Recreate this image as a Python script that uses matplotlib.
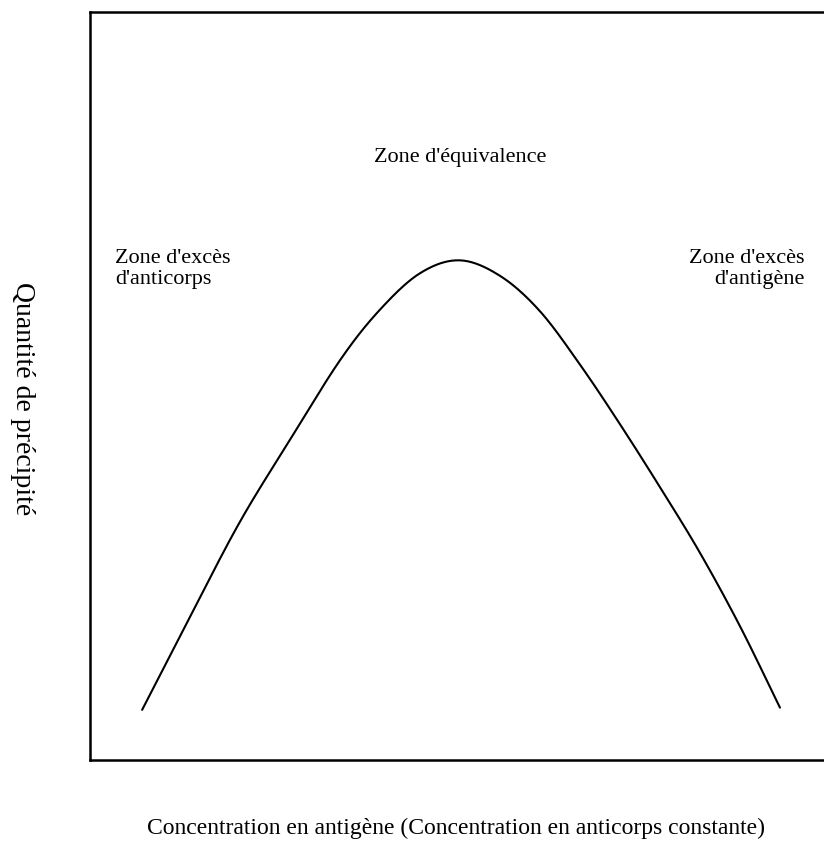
import matplotlib
matplotlib.use("Agg")
import matplotlib.pyplot as plt
import numpy as np

# Data (arbitrary units, 0-100)
conc_antigene = [7.1, 13.6, 20.4, 27.3, 34.1, 39.5, 45.0, 50.4,
                 55.9, 61.3, 66.8, 72.2, 77.7, 83.1, 88.6, 94.0]
precipite = [6.7, 19.1, 31.8, 42.9, 53.5, 60.2, 65.1, 66.8,
             64.7, 60.0, 52.8, 44.9, 36.4, 27.7, 17.8, 7.0]

zone_labels = ["Zone d'excès\nd'anticorps", "Zone d'équivalence", "Zone d'excès\nd'antigène"]
xlabel = "Concentration en antigène (Concentration en anticorps constante)"
ylabel = "Quantité de précipité"


def smooth(xs, ys, n=20):
    """Uniform Catmull-Rom curve through the points (drawing only)."""
    p = np.column_stack([xs, ys]).astype(float)
    p = np.vstack([2 * p[0] - p[1], p, 2 * p[-1] - p[-2]])
    out = []
    t = np.linspace(0, 1, n, endpoint=False)[:, None]
    for i in range(1, len(p) - 2):
        p0, p1, p2, p3 = p[i - 1], p[i], p[i + 1], p[i + 2]
        seg = 0.5 * ((2 * p1) + (-p0 + p2) * t + (2 * p0 - 5 * p1 + 4 * p2 - p3) * t ** 2
                     + (-p0 + 3 * p1 - 3 * p2 + p3) * t ** 3)
        out.append(seg)
    out.append(p[-2][None, :])
    out = np.vstack(out)
    return out[:, 0], out[:, 1]


plt.rcParams['font.family'] = ['Liberation Serif', 'DejaVu Serif']

W, H = 824, 843
fig = plt.figure(figsize=(W / 100, H / 100), dpi=100)
left, right, top, bottom = 90, 824, 12, 760
ax = fig.add_axes([left / W, 1 - bottom / H, (right - left) / W, (bottom - top) / H])
ax.set_xlim(0, 100)
ax.set_ylim(0, 100)
sx, sy = smooth(conc_antigene, precipite)
ax.plot(sx, sy, color='black', lw=1.5, solid_capstyle='round')
ax.set_xticks([])
ax.set_yticks([])
for s in ['left', 'top', 'bottom']:
    ax.spines[s].set_linewidth(1.8)
ax.spines['right'].set_visible(False)

fs = 16
ax.text(3.4, 65.6, zone_labels[0], ha='left', va='center', fontsize=fs, linespacing=1.12)
ax.text(50.4, 80.6, zone_labels[1], ha='center', va='center', fontsize=fs)
ax.text(97.4, 65.6, zone_labels[2], ha='right', va='center', fontsize=fs, linespacing=1.12,
        multialignment='right')

fig.text(456 / W, 1 - 828 / H, xlabel, ha='center', va='center', fontsize=17)
fig.text(22 / W, 1 - 399 / H, ylabel, ha='center', va='center', fontsize=20, rotation=270)

fig.savefig("out.png", dpi=100)
